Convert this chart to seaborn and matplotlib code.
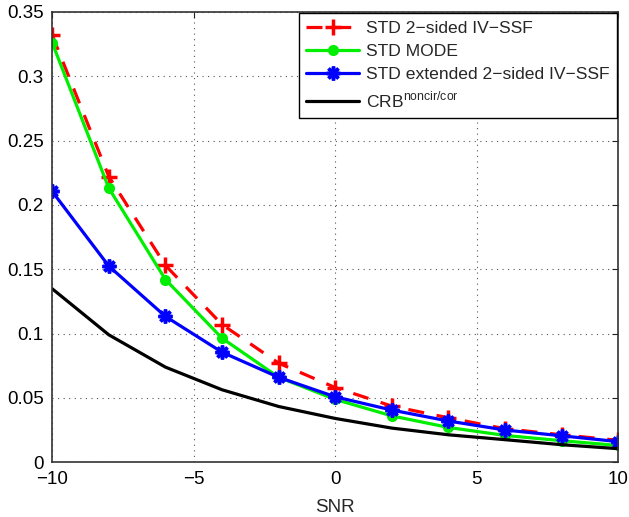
import matplotlib.pyplot as plt
import numpy as np
import pandas as pd
import seaborn as sns

snr = [-10, -8, -6, -4, -2, 0, 2, 4, 6, 8, 10]
std_2sided = [0.332, 0.222, 0.153, 0.107, 0.077, 0.058, 0.0436, 0.0345, 0.026, 0.0213, 0.017]
std_mode = [0.326, 0.213, 0.142, 0.0964, 0.066, 0.0488, 0.036, 0.027, 0.0208, 0.0167, 0.013]
std_ext = [0.2104, 0.1524, 0.1133, 0.0855, 0.066, 0.0508, 0.0405, 0.032, 0.025, 0.0205, 0.016]
crb = [0.1348, 0.099, 0.0739, 0.0563, 0.0433, 0.034, 0.0265, 0.0213, 0.0175, 0.0136, 0.0105]

names = ["STD 2\u2212sided IV\u2212SSF", "STD MODE",
         "STD extended 2\u2212sided IV\u2212SSF", "CRB$^{\\mathregular{noncir/cor}}$"]
df = pd.DataFrame({"SNR": snr * 4,
                   "value": std_2sided + std_mode + std_ext + crb,
                   "series": np.repeat(names, len(snr))})

sns.set_style("white")
plt.rcParams["font.family"] = ["Liberation Sans", "DejaVu Sans"]
plt.rcParams["font.size"] = 13

fig = plt.figure(figsize=(6.29, 5.17), dpi=100)
ax = fig.add_axes([0.083, 0.106, 0.900, 0.871])

colors = {names[0]: "#ff0000", names[1]: "#00ee00", names[2]: "#0000ff", names[3]: "black"}
styles = {names[0]: dict(ls="--", marker="+", ms=11, mew=2.5),
          names[1]: dict(ls="-", marker="o", ms=7, mew=1),
          names[2]: dict(ls="-", marker=(8, 2, 0), ms=10, mew=2.5),
          names[3]: dict(ls="-", marker=None)}

for n in names:
    sub = df[df.series == n]
    st = styles[n]
    sns.lineplot(data=sub, x="SNR", y="value", ax=ax, color=colors[n], lw=2.3,
                 marker=st["marker"], markersize=st.get("ms", 0),
                 markeredgewidth=st.get("mew", 0), markeredgecolor=colors[n],
                 label=n)
    ax.lines[-1].set_linestyle(st["ls"])
    if st["ls"] == "--":
        ax.lines[-1].set_dashes([5, 4])

ax.set_xlim(-10, 10)
ax.set_ylim(0, 0.35)
ax.set_xticks([-10, -5, 0, 5, 10])
ax.set_yticks(np.arange(0, 0.351, 0.05))
ax.set_yticklabels(["0", "0.05", "0.1", "0.15", "0.2", "0.25", "0.3", "0.35"])
ax.set_xlabel("SNR", fontsize=13.5, labelpad=8)
ax.set_ylabel("")
ax.grid(True, linestyle=(0, (1, 4)), color="#555555", lw=0.8)
for s in ax.spines.values():
    s.set_color("#333333")
    s.set_linewidth(1.2)
    s.set_visible(True)
ax.tick_params(direction="in", length=4, colors="#222222", labelsize=13.5, top=True, right=True,
               labelcolor="black")
ax.tick_params(axis="x", pad=6)
ax.tick_params(axis="y", pad=6)

leg = ax.legend(loc="upper right", fontsize=12.6, frameon=True, fancybox=False,
                edgecolor="black", framealpha=1, borderaxespad=0.05, handlelength=3.0,
                handletextpad=0.4, labelspacing=0.45, borderpad=0.45)
leg.get_frame().set_linewidth(1.0)

fig.savefig("out.png", dpi=100)
